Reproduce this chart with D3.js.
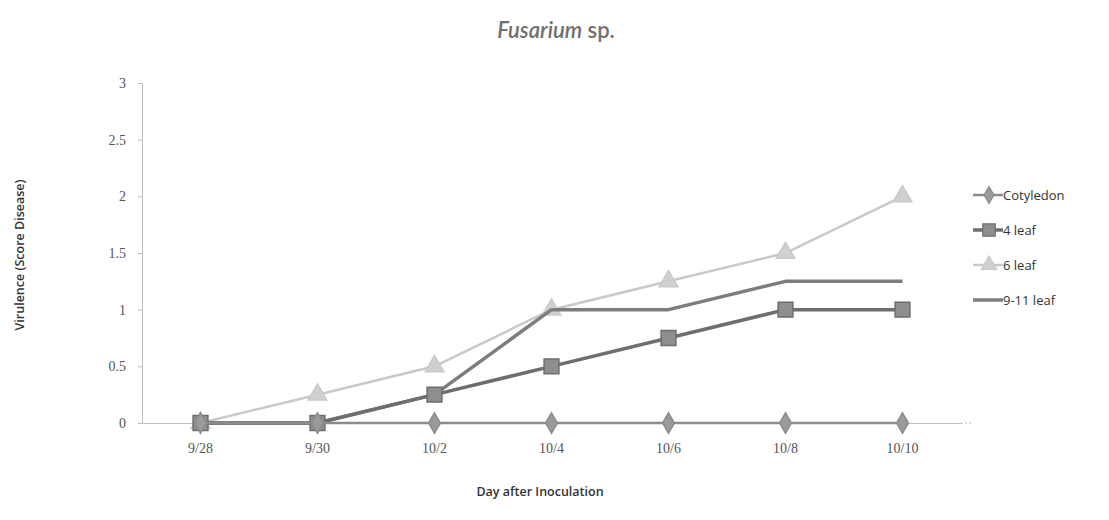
<!DOCTYPE html>
<html>
<head>
<meta charset="utf-8">
<script src="https://cdn.jsdelivr.net/npm/d3@7"></script>
<style>
  body { margin: 0; background: #fff; }
  svg { display: block; }
</style>
</head>
<body>
<div id="chart"></div>
<script>
// data
const days = ["9/28", "9/30", "10/2", "10/4", "10/6", "10/8", "10/10"];
const cotyledon = [0, 0, 0, 0, 0, 0, 0];
const leaf4 = [0, 0, 0.25, 0.5, 0.75, 1, 1];
const leaf6 = [0, 0.25, 0.5, 1, 1.25, 1.5, 2];
const leaf911 = [0, 0, 0.25, 1, 1, 1.25, 1.25];
const yTicks = [0, 0.5, 1, 1.5, 2, 2.5, 3];

const series = [
  { name: "Cotyledon", values: cotyledon, color: "#8c8c8c", fill: "#9a9a9a", marker: d3.symbolDiamond, size: 120, width: 2.5 },
  { name: "4 leaf", values: leaf4, color: "#6e6e6e", fill: "#8e8e8e", marker: d3.symbolSquare, size: 220, width: 3.5 },
  { name: "6 leaf", values: leaf6, color: "#c9c9c9", fill: "#d0d0d0", marker: d3.symbolTriangle, size: 150, width: 2.5 },
  { name: "9-11 leaf", values: leaf911, color: "#7d7d7d", fill: null, marker: null, size: 0, width: 3.5 }
];

const W = 1109, H = 520;
const margin = { left: 142, right: 148, top: 83, bottom: 97 };

const svg = d3.select("#chart").append("svg")
  .attr("width", W)
  .attr("height", H);

const x = d3.scaleBand()
  .domain(days)
  .range([margin.left, W - margin.right]);

const y = d3.scaleLinear()
  .domain([0, 3])
  .range([H - margin.bottom, margin.top]);

/* title */
const title = svg.append("text")
  .attr("x", 556)
  .attr("y", 38)
  .attr("text-anchor", "middle")
  .attr("font-family", "Lato, 'Open Sans', sans-serif")
  .attr("font-size", 22)
  .attr("font-weight", 600)
  .attr("fill", "#707070");
title.append("tspan").attr("font-style", "italic").text("Fusarium");
title.append("tspan").text(" sp.");

/* y axis */
const yAxis = svg.append("g")
  .attr("transform", `translate(${margin.left},0)`)
  .call(d3.axisLeft(y).tickValues(yTicks).tickSize(4).tickPadding(12).tickFormat(d3.format("")));
yAxis.select(".domain").attr("stroke", "#bdbdbd");
yAxis.selectAll(".tick line").attr("stroke", "#bdbdbd");
yAxis.selectAll(".tick text")
  .attr("font-family", "'Liberation Serif', 'DejaVu Serif', serif")
  .attr("font-size", 14)
  .attr("fill", "#555");

/* x axis */
const xAxis = svg.append("g")
  .attr("transform", `translate(0,${y(0)})`)
  .call(d3.axisBottom(x).tickSize(0).tickPadding(20));
xAxis.select(".domain").attr("stroke", "#bdbdbd").attr("stroke-width", 1.2);
xAxis.selectAll(".tick text")
  .attr("font-family", "'Liberation Serif', 'DejaVu Serif', serif")
  .attr("font-size", 14)
  .attr("fill", "#555");
// tiny dashed tail of the axis past the last category
svg.append("line")
  .attr("x1", W - margin.right)
  .attr("x2", W - margin.right + 12)
  .attr("y1", y(0))
  .attr("y2", y(0))
  .attr("stroke", "#bbb")
  .attr("stroke-dasharray", "2,2");

/* axis titles */
svg.append("text")
  .attr("transform", `translate(24,${(y(0) + y(3)) / 2 + 2}) rotate(-90)`)
  .attr("text-anchor", "middle")
  .attr("font-family", "'Open Sans', sans-serif")
  .attr("font-size", 12.5)
  .attr("font-weight", 600)
  .attr("fill", "#333")
  .text("Virulence (Score Disease)");

svg.append("text")
  .attr("x", 540)
  .attr("y", 496)
  .attr("text-anchor", "middle")
  .attr("font-family", "'Open Sans', sans-serif")
  .attr("font-size", 12.5)
  .attr("font-weight", 600)
  .attr("fill", "#333")
  .text("Day after Inoculation");

/* lines and markers */
const cx = (d, i) => x(days[i]) + x.bandwidth() / 2;
const line = d3.line()
  .x((d, i) => cx(d, i))
  .y(d => y(d));

const plot = svg.append("g").attr("class", "series");
// draw 6 leaf first so darker lines sit on top
const order = [2, 3, 1, 0];
order.forEach(k => {
  const s = series[k];
  const g = plot.append("g");
  g.append("path")
    .datum(s.values)
    .attr("fill", "none")
    .attr("stroke", s.color)
    .attr("stroke-width", s.width)
    .attr("stroke-linejoin", "round")
    .attr("d", line);
  if (s.marker) {
    g.selectAll("path.mark")
      .data(s.values)
      .join("path")
      .attr("class", "mark")
      .attr("transform", (d, i) => `translate(${cx(d, i)},${y(d)})`)
      .attr("d", d3.symbol().type(s.marker).size(s.size))
      .attr("fill", s.fill)
      .attr("stroke", s.color)
      .attr("stroke-width", 1.5);
  }
});

/* legend */
const legend = svg.append("g").attr("transform", "translate(973,195)");
series.forEach((s, i) => {
  const row = legend.append("g").attr("transform", `translate(0,${i * 35})`);
  row.append("line")
    .attr("x1", 0).attr("x2", 30)
    .attr("stroke", s.color)
    .attr("stroke-width", s.width);
  if (s.marker) {
    row.append("path")
      .attr("transform", "translate(16,0)")
      .attr("d", d3.symbol().type(s.marker).size(s.size * 0.7))
      .attr("fill", s.fill)
      .attr("stroke", s.color)
      .attr("stroke-width", 1.2);
  }
  row.append("text")
    .attr("x", 30)
    .attr("y", 4.5)
    .attr("font-family", "'Open Sans', sans-serif")
    .attr("font-size", 13)
    .attr("fill", "#333")
    .text(s.name);
});
</script>
</body>
</html>
